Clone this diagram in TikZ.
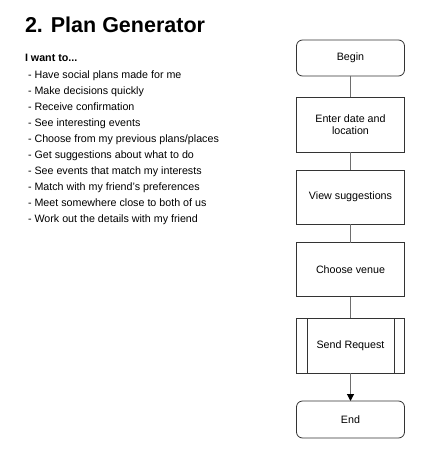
\documentclass[tikz,border=0pt]{standalone}
\usepackage{fontspec}
\setmainfont{Liberation Sans}
\usetikzlibrary{arrows.meta}
\definecolor{edge}{HTML}{333333}
\definecolor{wire}{HTML}{6E6E6E}
\begin{document}
\begin{tikzpicture}[x=1pt,y=-1pt,
  every node/.style={inner sep=0pt,outer sep=0pt},
  title/.style={anchor=base west,font=\fontsize{21.5}{24}\selectfont\bfseries},
  item/.style={anchor=base west,font=\fontsize{10.7}{12.5}\selectfont},
  terminal/.style={draw=edge,line width=0.8pt,rounded corners=6pt,minimum width=108pt,
    font=\fontsize{10.7}{12.5}\selectfont,align=center},
  process/.style={draw=edge,line width=0.8pt,minimum width=108pt,minimum height=55pt,
    font=\fontsize{10.7}{12.5}\selectfont,align=center},
  link/.style={draw=wire,line width=1.1pt}]
\useasboundingbox (0,0) rectangle (446,468);

% heading and wish list
\node[title] (title) at (25,33) {2. Plan Generator};
\node[item,font=\fontsize{10.7}{12.5}\selectfont\bfseries] (want) at (25,62) {I want to...};
\foreach [count=\i] \t in {
  Have social plans made for me,
  Make decisions quickly,
  Receive confirmation,
  See interesting events,
  Choose from my previous plans/places,
  Get suggestions about what to do,
  See events that match my interests,
  Match with my friend's preferences,
  Meet somewhere close to both of us,
  Work out the details with my friend}
  \node[item] (wish\i) at (28,62+16.07*\i) {- \t};

% flow of steps
\node[terminal,minimum height=36pt] (begin) at (350.5,58) {Begin};
\node[process] (enter) at (350.5,124.5) {Enter date and\\location};
\node[process,minimum height=54pt] (view) at (350.5,197) {View suggestions};
\node[process,minimum height=54pt] (venue) at (350.5,269.5) {Choose venue};
\node[process] (send) at (350.5,345.5) {Send Request};
\draw[edge,line width=0.8pt] ([xshift=10.5pt]send.north west) -- ([xshift=10.5pt]send.south west)
  ([xshift=-10.5pt]send.north east) -- ([xshift=-10.5pt]send.south east);
\node[terminal,minimum height=37pt] (end) at (350.5,419.5) {End};

\draw[link] (begin) -- (enter);
\draw[link] (enter) -- (view);
\draw[link] (view) -- (venue);
\draw[link] (venue) -- (send);
\draw[link,-{Triangle[length=7pt,width=7pt,color=black]}] (send) -- (end);
\end{tikzpicture}
\end{document}
